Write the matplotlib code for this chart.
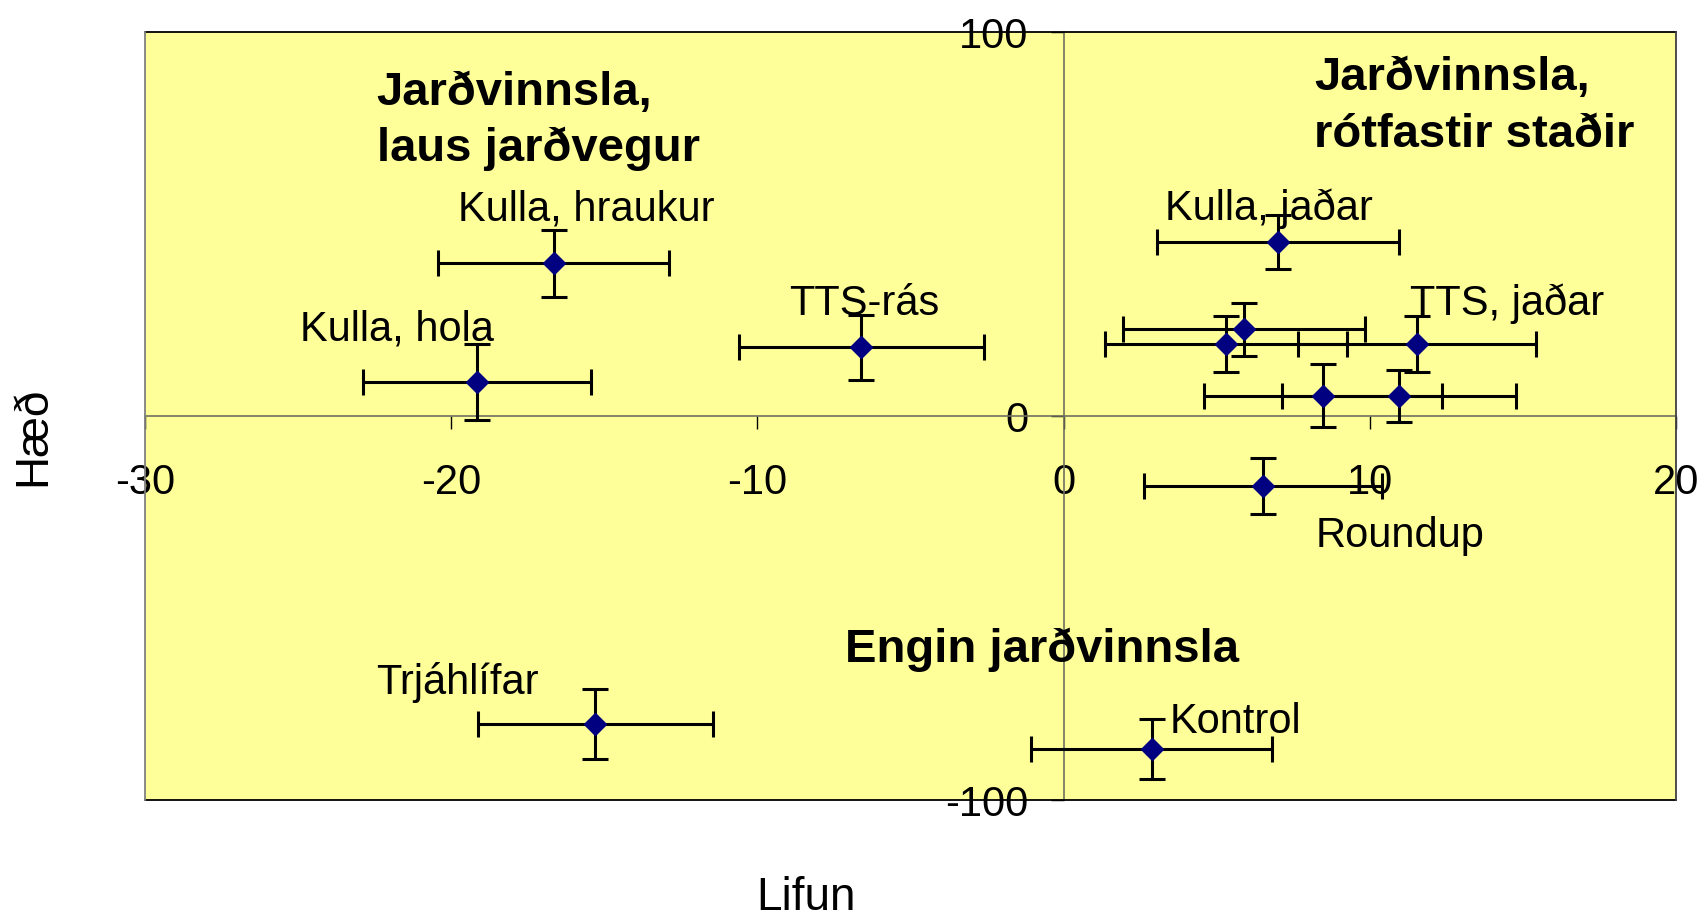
import matplotlib
matplotlib.use("Agg")
import matplotlib.pyplot as plt
from matplotlib.lines import Line2D

plt.rcParams["font.family"] = ["Liberation Sans", "DejaVu Sans"]
plt.rcParams["axes.unicode_minus"] = False

# ─── data: Lifun (x) vs Hæð (y), mean ± error ────────────────────────────────
lifun = [-16.65, -19.17, -6.61, -15.29, 2.88, 6.99, 5.9, 5.3, 11.54, 8.46, 10.96, 6.51]
haed = [39.8, 8.8, 17.9, -80.2, -86.7, 45.3, 22.6, 18.9, 18.9, 5.3, 5.3, -18.2]
lifun_err = [3.77, 3.72, 4.0, 3.83, 3.94, 3.95, 3.95, 3.94, 3.88, 3.88, 3.82, 3.9]
haed_err = [8.65, 9.9, 8.4, 9.1, 7.7, 7.0, 6.9, 7.3, 7.3, 8.25, 6.8, 7.3]

x_ticks = [-30, -20, -10, 0, 10, 20]
y_ticks = [-100, 0, 100]

# point labels (text, x, y of baseline, left aligned)
point_labels = [
    ("Kulla, hraukur", -19.78, 50.9),
    ("Kulla, hola", -24.93, 19.7),
    ("TTS-rás", -8.96, 26.4),
    ("Kulla, jaðar", 3.30, 51.1),
    ("TTS, jaðar", 11.32, 26.4),
    ("Roundup", 8.22, -34.0),
    ("Trjáhlífar", -22.44, -72.4),
    ("Kontrol", 3.46, -82.6),
]

# group headers (bold), one entry per line
group_labels = [
    ("Jarðvinnsla,", -22.44, 81.1),
    ("laus jarðvegur", -22.44, 66.4),
    ("Jarðvinnsla,", 8.18, 84.9),
    ("rótfastir staðir", 8.18, 70.1),
    ("Engin jarðvinnsla", -7.13, -64.0),
]

fig = plt.figure(figsize=(17.08, 9.22), dpi=100)
ax = fig.add_axes([0.0849, 0.1323, 0.8964, 0.8327])
ax.set_facecolor("#FFFF99")
ax.set_xlim(-30, 20)
ax.set_ylim(-100, 100)

# axes crossing at zero
for side in ("left", "bottom"):
    ax.spines[side].set_position(("data", 0))
    ax.spines[side].set_color("#707060")
    ax.spines[side].set_linewidth(1.2)
ax.spines["top"].set_visible(False)
ax.spines["right"].set_visible(False)

# outer frame of the plot area
frame = [
    ([0, 1], [1, 1], "black"),
    ([0, 1], [0, 0], "black"),
    ([0, 0], [0, 1], "#808080"),
    ([1, 1], [0, 1], "#404040"),
]
for fx, fy, fc in frame:
    ax.add_line(Line2D(fx, fy, transform=ax.transAxes, color=fc,
                       linewidth=1.3, clip_on=False, zorder=5))

ax.set_xticks(x_ticks)
ax.set_yticks(y_ticks)
ax.tick_params(axis="x", direction="out", length=9.5, width=1.0,
               color="black", pad=24, labelsize=30)
ax.tick_params(axis="y", direction="out", length=9.5, width=1.0,
               color="black", pad=16, labelsize=30)

ax.errorbar(lifun, haed, xerr=lifun_err, yerr=haed_err,
            fmt="D", color="#000080", markersize=11.5,
            ecolor="black", elinewidth=2.2, capsize=9.5, capthick=2.2,
            zorder=3)

for txt, tx, ty in point_labels:
    ax.text(tx, ty, txt, fontsize=30, ha="left", va="baseline", zorder=4)

for txt, tx, ty in group_labels:
    ax.text(tx, ty, txt, fontsize=34, fontweight="bold",
            ha="left", va="baseline", zorder=4)

fig.text(806 / 1708, 1 - 898 / 922, "Lifun", fontsize=33, ha="center", va="center")
fig.text(33 / 1708, 1 - 436 / 922, "Hæð", fontsize=33, rotation=90,
         ha="center", va="center")

fig.savefig("out.png", dpi=100, facecolor="white")
